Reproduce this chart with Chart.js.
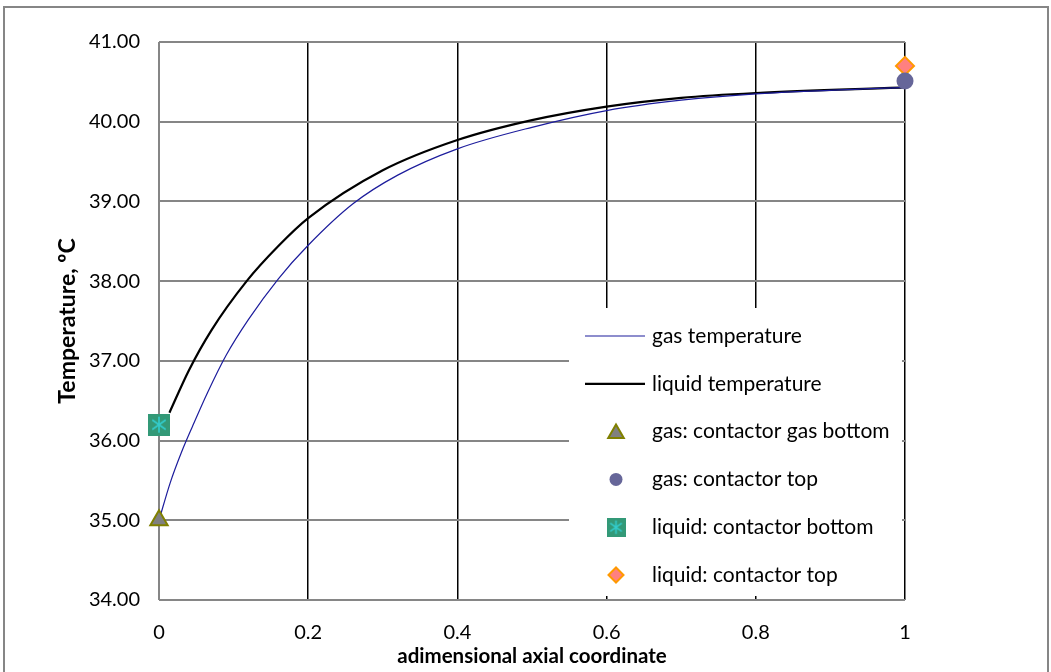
<!DOCTYPE html>
<html>
<head>
<meta charset="utf-8">
<script src="https://cdn.jsdelivr.net/npm/chart.js@4"></script>
<style>
  html, body { margin: 0; padding: 0; background: #fff; }
  #wrap { position: relative; width: 1051px; height: 672px; overflow: hidden; }
  #frame { position: absolute; left: 3px; top: 6px; width: 1046px; height: 700px; border: 2px solid #868686; box-sizing: border-box; }
  canvas { position: absolute; left: 0; top: 0; }
</style>
</head>
<body>
<div id="wrap">
  <div id="frame"></div>
  <canvas id="chart" width="1051" height="672"></canvas>
</div>
<script>
// profile values
const gasX = [0, 0.015, 0.03, 0.045, 0.065, 0.09, 0.12, 0.16, 0.2, 0.26, 0.32, 0.4, 0.5, 0.6, 0.7, 0.8, 1.0];
const gasT = [35.0, 35.47, 35.85, 36.18, 36.6, 37.07, 37.52, 38.03, 38.45, 38.97, 39.33, 39.66, 39.93, 40.14, 40.27, 40.35, 40.43];

const liquidX = [0.014, 0.04, 0.07, 0.1175, 0.16, 0.2, 0.3, 0.4, 0.5, 0.6, 0.7, 0.8, 1.0];
const liquidT = [36.35, 36.88, 37.38, 38.0, 38.44, 38.79, 39.39, 39.77, 40.02, 40.19, 40.3, 40.36, 40.43];

// contactor measurements
const gasBottom = { x: 0, y: 35.0 };
const gasTop = { x: 1, y: 40.51 };
const liquidBottom = { x: 0, y: 36.2 };
const liquidTop = { x: 1, y: 40.7 };

const yTicks = [34, 35, 36, 37, 38, 39, 40, 41];
const xTicks = [0, 0.2, 0.4, 0.6, 0.8, 1];

const FONT = "Lato, 'Open Sans', sans-serif";

// square with asterisk marker (liquid bottom)
function makeSquareStar(size) {
    const c = document.createElement('canvas');
    c.width = size; c.height = size;
    const g = c.getContext('2d');
    g.fillStyle = '#339977';
    g.fillRect(0, 0, size, size);
    g.strokeStyle = '#33CCCC';
    g.lineWidth = 1.6;
    const m = size / 2, r = size * 0.36;
    g.beginPath();
    g.moveTo(m, m - r); g.lineTo(m, m + r);
    g.moveTo(m - r * 0.85, m - r * 0.6); g.lineTo(m + r * 0.85, m + r * 0.6);
    g.moveTo(m - r * 0.85, m + r * 0.6); g.lineTo(m + r * 0.85, m - r * 0.6);
    g.stroke();
    return c;
}
const squareStar = makeSquareStar(22);
const squareStarSmall = makeSquareStar(19);

const toPts = (xs, ys) => xs.map((x, i) => ({ x: x, y: ys[i] }));

// legend drawn inside plot area on a white box
const boxLegend = {
    id: 'boxLegend',
    afterDraw(chart) {
        const ctx = chart.ctx;
        const a = chart.chartArea;
        const x0 = 569, y0 = 308;
        ctx.save();
        ctx.fillStyle = '#fff';
        ctx.fillRect(x0, y0, a.right - 3 - x0, a.bottom - 4 - y0);
        ctx.font = '21px ' + FONT;
        ctx.textBaseline = 'middle';
        ctx.textAlign = 'left';
        chart.data.datasets.forEach((ds, i) => {
            const y = 336 + i * 47.8;
            if (ds.showLine) {
                ctx.strokeStyle = ds.borderColor;
                ctx.lineWidth = ds.borderWidth;
                ctx.beginPath();
                ctx.moveTo(585, y);
                ctx.lineTo(645, y);
                ctx.stroke();
            } else if (ds.pointStyle === squareStar) {
                ctx.drawImage(squareStarSmall, 616 - 9.5, y - 9.5);
            } else {
                ctx.fillStyle = ds.backgroundColor;
                ctx.strokeStyle = ds.borderColor;
                ctx.lineWidth = ds.pointBorderWidth || 0;
                Chart.helpers.drawPoint(ctx, {
                    pointStyle: ds.pointStyle,
                    radius: ds.legendRadius,
                    rotation: 0,
                    borderWidth: ds.pointBorderWidth || 0
                }, 616, ds.pointStyle === 'triangle' ? y + 2 : y);
            }
            ctx.fillStyle = '#000';
            ctx.fillText(ds.label, 652, y);
        });
        ctx.restore();
    }
};

new Chart(document.getElementById('chart'), {
    type: 'scatter',
    data: {
        datasets: [
            {
                label: 'gas temperature',
                data: toPts(gasX, gasT),
                showLine: true,
                borderColor: '#1c1c9c',
                borderWidth: 1.2,
                pointRadius: 0,
                cubicInterpolationMode: 'monotone',
                order: 2
            },
            {
                label: 'liquid temperature',
                data: toPts(liquidX, liquidT),
                showLine: true,
                borderColor: '#000000',
                borderWidth: 2.2,
                pointRadius: 0,
                cubicInterpolationMode: 'monotone',
                order: 2
            },
            {
                label: 'gas: contactor gas bottom',
                data: [gasBottom],
                pointStyle: 'triangle',
                backgroundColor: '#808080',
                borderColor: '#808000',
                pointBorderWidth: 2,
                pointRadius: 10,
                legendRadius: 9,
                clip: false,
                order: 1
            },
            {
                label: 'gas: contactor top',
                data: [gasTop],
                pointStyle: 'circle',
                backgroundColor: '#666699',
                borderColor: '#666699',
                pointBorderWidth: 0,
                pointRadius: 8.5,
                legendRadius: 6.5,
                clip: false,
                order: 1
            },
            {
                label: 'liquid: contactor bottom',
                data: [liquidBottom],
                pointStyle: squareStar,
                backgroundColor: '#339977',
                borderColor: '#339977',
                pointRadius: 11,
                clip: false,
                order: 1
            },
            {
                label: 'liquid: contactor top',
                data: [liquidTop],
                pointStyle: 'rectRot',
                backgroundColor: '#FF8080',
                borderColor: '#FF9900',
                pointBorderWidth: 2,
                pointRadius: 9,
                legendRadius: 7.5,
                clip: false,
                order: 1
            }
        ]
    },
    options: {
        responsive: false,
        devicePixelRatio: 1,
        animation: false,
        layout: { padding: { left: 0, top: 42, right: 146, bottom: 0 } },
        plugins: {
            legend: { display: false },
            tooltip: { enabled: false }
        },
        scales: {
            x: {
                type: 'linear',
                min: 0,
                max: 1,
                afterBuildTicks: s => { s.ticks = xTicks.map(v => ({ value: v })); },
                afterFit: s => { s.height = 72; },
                border: { display: false },
                grid: {
                    drawTicks: false,
                    color: c => (c.tick && c.tick.value === 0) ? '#868686' : '#000000',
                    lineWidth: c => (c.tick && c.tick.value === 0) ? 2 : 1.5
                },
                ticks: {
                    padding: 21,
                    color: '#000',
                    font: { family: FONT, size: 20 },
                    callback: v => String(Math.round(v * 10) / 10)
                },
                title: {
                    display: true,
                    text: 'adimensional axial coordinate',
                    color: '#000',
                    font: { family: FONT, size: 20.5, weight: 'bold' },
                    padding: { top: 0, bottom: 3 }
                }
            },
            y: {
                type: 'linear',
                min: 34,
                max: 41,
                afterBuildTicks: s => { s.ticks = yTicks.map(v => ({ value: v })); },
                afterFit: s => { s.width = 159; },
                border: { display: false },
                grid: {
                    drawTicks: false,
                    color: '#868686',
                    lineWidth: 2
                },
                ticks: {
                    padding: 19,
                    color: '#000',
                    font: { family: FONT, size: 20 },
                    callback: v => v.toFixed(2)
                },
                title: {
                    display: true,
                    text: 'Temperature, ºC',
                    color: '#000',
                    font: { family: FONT, size: 23, weight: 'bold' },
                    padding: { top: 54, bottom: 0 }
                }
            }
        }
    },
    plugins: [boxLegend]
});
</script>
</body>
</html>
